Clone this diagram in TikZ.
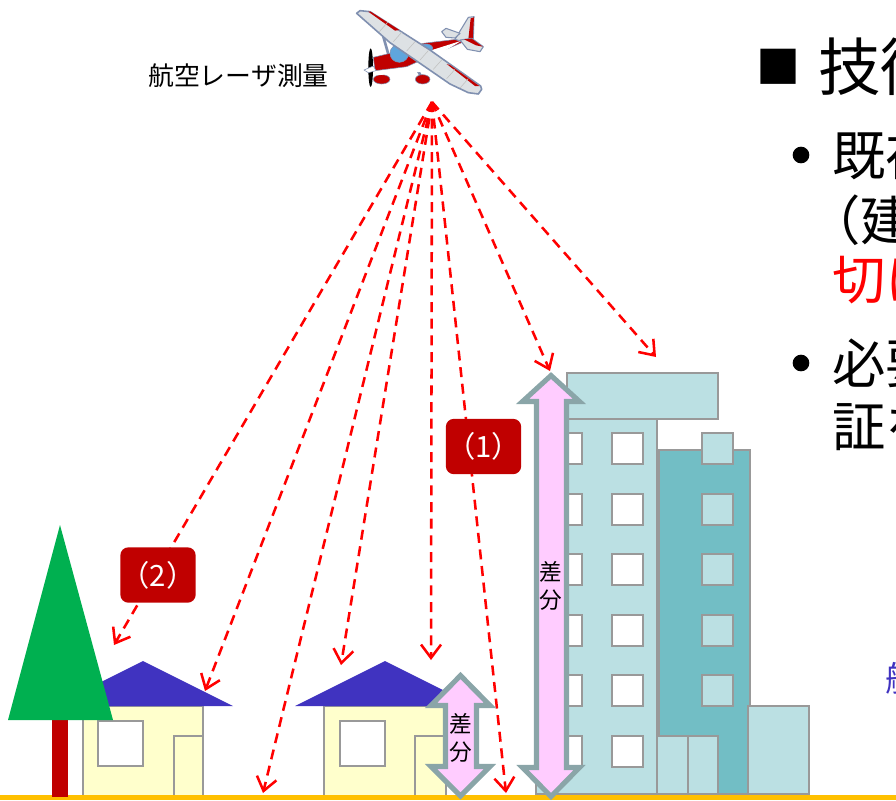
\documentclass[tikz,border=0pt]{standalone}
\usepackage{fontspec}
\setmainfont{Noto Sans CJK JP}
\usetikzlibrary{arrows.meta}
\definecolor{roofblue}{HTML}{4033C0}
\definecolor{wallyellow}{HTML}{FFFFCC}
\definecolor{lightteal}{HTML}{BBE0E3}
\definecolor{darkteal}{HTML}{72BEC5}
\definecolor{darkred}{HTML}{C00000}
\definecolor{arrowgray}{HTML}{8AA5A8}
\definecolor{pinkfill}{HTML}{FFCCFF}
\definecolor{groundyellow}{HTML}{FFC000}
\definecolor{treegreen}{HTML}{00B050}
\definecolor{planeline}{HTML}{8090B0}
\definecolor{wingsilver}{HTML}{DDE1E4}
\definecolor{glassblue}{HTML}{5FA5DC}
\tikzset{
	wall/.style={draw=black!40,line width=1pt},
	ray/.style={red,dash pattern=on 7.5pt off 5pt,line width=1.9pt,-{Straight Barb[length=10pt,width=15pt,line width=1.9pt]}},
	badge/.style={fill=darkred,rounded corners=6pt,minimum width=56.5pt,minimum height=41.5pt,inner sep=0pt,text=white,font=\fontsize{22}{22}\selectfont},
	sabun/.style={draw=arrowgray,fill=pinkfill,line width=3.8pt,miter limit=10},
	sabunlabel/.style={font=\fontsize{17}{21}\selectfont,align=center,inner sep=0pt},
	slide/.style={anchor=west,inner sep=0pt,font=\fontsize{40}{40}\selectfont},
	dot/.style={circle,fill=black,minimum size=12.5pt,inner sep=0pt},
	skin/.style={draw=planeline,line width=.8pt,fill=wingsilver}
}
\begin{document}
\begin{tikzpicture}[x=.75pt,y=-.75pt]
		\useasboundingbox (0,0) rectangle (896,800);
		\clip (0,0) rectangle (896,800);
		% tall building with the block behind it
		\draw[wall,fill=darkteal] (659,450) rectangle (750,794);
		\draw[wall,fill=lightteal] (536,419) rectangle (657,794);
		\draw[wall,fill=lightteal] (567,373) rectangle (718,419);
		\foreach \y in {433,494,554,615,675,736} {
			\draw[wall,fill=white] (551,\y) rectangle ++(31,31);
			\draw[wall,fill=white] (612,\y) rectangle ++(31,31);
		}
		\foreach \y in {433,494,554,615,675} \draw[wall,fill=lightteal] (702,\y) rectangle ++(31,31);
		\draw[wall,fill=lightteal] (657,736) rectangle (688,794);
		\draw[wall,fill=lightteal] (688,736) rectangle (718,794);
		\draw[wall,fill=lightteal] (748,706) rectangle (809,794);
		% houses
		\draw[wall,fill=wallyellow] (83,706) rectangle (203,797);
		\draw[wall,fill=white] (98,721) rectangle (143,766);
		\draw[wall,fill=wallyellow] (174,736) rectangle (203,797);
		\fill[roofblue] (53,706) -- (143,661) -- (233,706) -- cycle;
		\draw[wall,fill=wallyellow] (324,706) rectangle (446,797);
		\draw[wall,fill=white] (340,721) rectangle (385,766);
		\draw[wall,fill=wallyellow] (415,736) rectangle (446,797);
		\fill[roofblue] (295,706) -- (385,661) -- (475,706) -- cycle;
		% ground and tree
		\fill[groundyellow] (0,794.5) rectangle (896,800);
		\fill[darkred] (52,720) rectangle (68,797);
		\fill[treegreen] (60,525) -- (113,720) -- (8,720) -- cycle;
		% laser rays
		\coordinate (laser) at (432,102);
		\coordinate (r1) at (114,645);
		\coordinate (r2) at (205,691);
		\coordinate (r3) at (263,793);
		\coordinate (r4) at (341,665);
		\coordinate (r5) at (431,660);
		\coordinate (r6) at (506,793);
		\coordinate (r7) at (550,371);
		\coordinate (r8) at (656,357);
		\foreach \t in {r1,r2,r3,r4,r5,r6,r7,r8} \draw[ray] (laser) -- (\t);
		\node[badge] (one) at (483.5,446.5) {（1）};
		\node[badge] (two) at (158,575) {（2）};
		% height arrows
		\draw[sabun] (551,375.5) -- (579.5,401.5) -- (566.5,401.5) -- (566.5,767.5) -- (579.5,767.5) -- (551,796.5) -- (522.5,767.5) -- (536.5,767.5) -- (536.5,401.5) -- (522.5,401.5) -- cycle;
		\node[sabunlabel] (tallgap) at (551,586) {差\\分};
		\draw[sabun] (460.5,675.5) -- (490,705.5) -- (476.5,705.5) -- (476.5,766.5) -- (490,766.5) -- (460.5,796) -- (431,766.5) -- (445.5,766.5) -- (445.5,705.5) -- (431,705.5) -- cycle;
		\node[sabunlabel] (lowgap) at (460.5,737.5) {差\\分};
		% aeroplane
		\begin{scope}[shift={(340,0)},scale=1/3,line join=round]
			\draw[planeline,line width=2pt] (130,110) -- (150,180) (215,180) -- (245,232);
			\draw[planeline,fill=darkred] (125,238) ellipse (25 and 14);
			\draw[planeline,fill=darkred] (248,238) ellipse (22 and 14);
			\fill[white] (100,205) -- (240,180) -- (250,215) -- (105,226) -- cycle;
			\draw[planeline,fill=darkred] (100,172) -- (150,160) -- (250,130) -- (365,116) -- (372,125) -- (285,162) -- (200,200) -- (105,212) -- cycle;
			\fill[white] (270,152) -- (365,122) -- (285,170) -- (250,182) -- cycle;
			\draw[skin] (345,118) -- (385,52) -- (402,50) -- (400,115) -- (370,126) -- cycle;
			\fill[darkred] (385,118) -- (392,55) -- (402,52) -- (398,118) -- cycle;
			\draw[skin] (305,95) -- (318,85) -- (360,100) -- (345,114) -- (318,112) -- cycle;
			\draw[skin] (360,120) -- (395,115) -- (430,140) -- (420,155) -- (382,148) -- cycle;
			\fill[darkred] (372,118) -- (395,116) -- (428,140) -- (408,136) -- cycle;
			\draw[planeline,fill=glassblue] (178,160) ellipse (28 and 27);
			\draw[planeline,fill=glassblue] (258,145) ellipse (20 and 13);
			% wing
			\draw[planeline,fill=wingsilver,line width=1.2pt] (50,40) -- (60,32) -- (90,35) -- (270,150) -- (422,258) -- (425,268) -- (415,282) -- (385,278) -- (330,252) -- (150,128) -- cycle;
			\fill[darkred] (85,35) -- (92,35) -- (178,90) -- (165,92) -- cycle;
			\fill[darkred] (320,192) -- (330,195) -- (418,258) -- (405,258) -- cycle;
			\foreach \a/\b in {118/85,160/115,200/143,240/170,280/198,320/226,360/254} \draw[black!25,line width=.4pt] (\a,\b+10) -- ++(25,-28);
			\fill[black] (92,203) ellipse (7 and 58);
			\draw[planeline,fill=white] (72,210) -- (100,198) -- (108,212) -- (85,218) -- cycle;
		\end{scope}
		% texts
		\node[anchor=center,inner sep=0pt,font=\fontsize{19.4}{20}\selectfont] (survey) at (238.5,76) {航空レーザ測量};
		\node[slide,font=\fontsize{47}{47}\selectfont] (title) at (818,67) {技術};
		\node[inner sep=0pt,font=\fontsize{33}{33}\selectfont] (square) at (778.5,66.5) {■};
		\node[dot] (dot1) at (801,155) {};
		\node[slide] (line1) at (832,155) {既存};
		\node[slide] (line2) at (807,220) {（建物};
		\node[slide,text=red] (line3) at (832,280) {切に};
		\node[dot] (dot2) at (801,363) {};
		\node[slide] (line4) at (832,363) {必要};
		\node[slide] (line5) at (832,427) {証を};
		\node[anchor=west,inner sep=0pt,text=roofblue,font=\fontsize{26}{26}\selectfont] (purple) at (885,678) {航空};
\end{tikzpicture}
\end{document}
